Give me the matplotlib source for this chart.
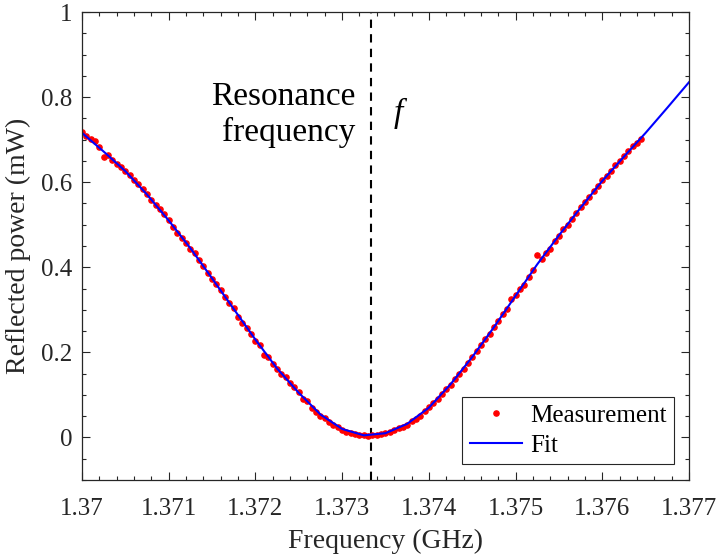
import numpy as np
import matplotlib
matplotlib.use("Agg")
import matplotlib.pyplot as plt
from matplotlib.ticker import MultipleLocator, FuncFormatter

plt.rcParams['font.family'] = ['Liberation Serif', 'DejaVu Serif']

# measurement: one sample every 50 kHz starting at 1.370 GHz
meas_start = 1.370
meas_step = 0.00005
meas_power = [
    0.718, 0.708, 0.701, 0.696, 0.683, 0.659, 0.663, 0.653, 0.642, 0.636,
    0.627, 0.616, 0.605, 0.595, 0.584, 0.572, 0.557, 0.546, 0.536, 0.525,
    0.511, 0.494, 0.481, 0.469, 0.457, 0.444, 0.433, 0.416, 0.404, 0.387,
    0.372, 0.360, 0.347, 0.331, 0.315, 0.304, 0.284, 0.270, 0.257, 0.243,
    0.226, 0.217, 0.194, 0.188, 0.173, 0.161, 0.149, 0.141, 0.127, 0.118,
    0.108, 0.090, 0.085, 0.069, 0.061, 0.051, 0.045, 0.037, 0.029, 0.024,
    0.018, 0.014, 0.010, 0.007, 0.005, 0.005, 0.004, 0.005, 0.006, 0.008,
    0.010, 0.013, 0.017, 0.022, 0.025, 0.030, 0.039, 0.044, 0.050, 0.062,
    0.071, 0.080, 0.091, 0.103, 0.113, 0.124, 0.137, 0.149, 0.161, 0.176,
    0.188, 0.203, 0.217, 0.231, 0.244, 0.259, 0.274, 0.290, 0.303, 0.326,
    0.334, 0.350, 0.359, 0.378, 0.394, 0.428, 0.420, 0.433, 0.444, 0.462,
    0.474, 0.491, 0.499, 0.514, 0.528, 0.541, 0.553, 0.565, 0.579, 0.590,
    0.604, 0.615, 0.627, 0.640, 0.651, 0.662, 0.673, 0.684, 0.693, 0.702,
]
meas_freq = meas_start + meas_step * np.arange(len(meas_power))

# fitted curve, read every 250 kHz
fit_freq = [1.37000, 1.37025, 1.37050, 1.37075, 1.37100, 1.37125, 1.37150,
            1.37175, 1.37200, 1.37225, 1.37250, 1.37275, 1.37300, 1.37325,
            1.37350, 1.37375, 1.37400, 1.37425, 1.37450, 1.37475, 1.37500,
            1.37525, 1.37550, 1.37575, 1.37600, 1.37625, 1.37650, 1.37675,
            1.37700]
fit_power = [0.716, 0.672, 0.626, 0.571, 0.510, 0.445, 0.374,
             0.302, 0.230, 0.162, 0.105, 0.054, 0.020, 0.005,
             0.010, 0.032, 0.070, 0.125, 0.189, 0.259, 0.333,
             0.407, 0.475, 0.540, 0.603, 0.660, 0.716, 0.775,
             0.835]

f_res = 1.37333
x_ticks = [1.370, 1.371, 1.372, 1.373, 1.374, 1.375, 1.376, 1.377]
y_ticks = [0, 0.2, 0.4, 0.6, 0.8, 1.0]

axis_col = '#262626'

fig = plt.figure(figsize=(7.18, 5.59), dpi=100)
ax = fig.add_axes([0.1142, 0.1413, 0.8454, 0.8372])

ax.axvline(f_res, color='black', linestyle=(0, (4, 3)), linewidth=1.5)
ax.plot(meas_freq, meas_power, '.', color='#ff0000', markersize=7.5, label='Measurement')
ax.plot(fit_freq, fit_power, '-', color='#0000ff', linewidth=1.5, label='Fit')

ax.text(1.37315, 0.758, 'Resonance\nfrequency', ha='right', va='center',
        fontsize=24, linespacing=1.2)
ax.text(1.37365, 0.762, 'f', ha='center', va='center', fontsize=24,
        fontstyle='italic')

ax.set_xlim(1.370, 1.377)
ax.set_ylim(-0.1, 1.0)
ax.set_xticks(x_ticks)
ax.set_yticks(y_ticks)
ax.xaxis.set_minor_locator(MultipleLocator(0.0002))
ax.yaxis.set_minor_locator(MultipleLocator(0.05))
ax.xaxis.set_major_formatter(FuncFormatter(lambda v, p: '%g' % round(v, 4)))
ax.yaxis.set_major_formatter(FuncFormatter(lambda v, p: '%g' % round(v, 2)))

ax.tick_params(which='both', direction='in', top=True, right=True,
               colors=axis_col, labelsize=18, width=0.8)
ax.tick_params(which='major', length=6)
ax.tick_params(which='minor', length=3)
ax.tick_params(axis='x', which='major', pad=13)
ax.tick_params(axis='y', which='major', pad=7)
for s in ax.spines.values():
    s.set_color(axis_col)
    s.set_linewidth(0.9)

ax.set_xlabel('Frequency (GHz)', fontsize=20, color=axis_col, labelpad=6)
ax.set_ylabel('Reflected power (mW)', fontsize=20, color=axis_col, labelpad=7)

leg = ax.legend(loc='lower right', bbox_to_anchor=(0.9753, 0.0342),
                borderaxespad=0, fontsize=18, fancybox=False, framealpha=1,
                edgecolor=axis_col, handlelength=2.1, handletextpad=0.3,
                labelspacing=0.3, borderpad=0.3, markerscale=1.0)
leg.get_frame().set_linewidth(0.8)

fig.savefig('out.png', dpi=100)
